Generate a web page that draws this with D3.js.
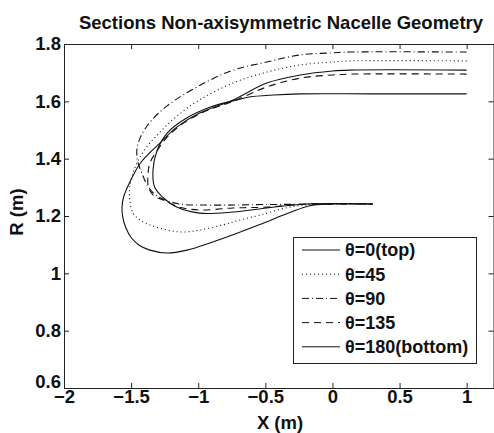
<!DOCTYPE html>
<html lang="en">
<head>
    <meta charset="UTF-8" />
    <title>Sections Non-axisymmetric Nacelle Geometry</title>
    <script src="https://d3js.org/d3.v7.min.js"></script>
    <style>
        body { margin: 0; background: #fff; }
        text { font-family: "Liberation Sans", Arial, Helvetica, sans-serif; font-weight: bold; fill: #111; }
    </style>
</head>
<body>
    <script>
        var w = 494;
        var h = 433;

        // Section data (x in m, r in m)
        var sec0x   = [1.0, 0.3, -0.24, -0.44, -0.62, -0.71, -0.91, -1.11, -1.23, -1.305, -1.337, -1.325, -1.265, -1.16, -0.99, -0.74, -0.49, -0.19, 0.3];
        var sec0r   = [1.626, 1.626, 1.626, 1.622, 1.615, 1.605, 1.580, 1.535, 1.490, 1.430, 1.360, 1.301, 1.266, 1.231, 1.210, 1.214, 1.228, 1.242, 1.242];

        var sec45x  = [1.0, 0.13, 0.0, -0.24, -0.49, -0.74, -0.99, -1.16, -1.29, -1.40, -1.47, -1.51, -1.51, -1.486, -1.434, -1.36, -1.233, -1.114, -0.988, -0.816, -0.69, -0.541, -0.318, -0.09, 0.3];
        var sec45r  = [1.741, 1.741, 1.737, 1.727, 1.702, 1.664, 1.605, 1.548, 1.490, 1.430, 1.370, 1.301, 1.256, 1.210, 1.186, 1.169, 1.151, 1.144, 1.151, 1.169, 1.186, 1.203, 1.231, 1.242, 1.242];

        var sec90x  = [1.0, 0.13, 0.0, -0.24, -0.49, -0.74, -0.99, -1.23, -1.38, -1.45, -1.455, -1.42, -1.37, -1.30, -1.15, -0.9, -0.5, 0.3];
        var sec90r  = [1.772, 1.772, 1.769, 1.762, 1.737, 1.709, 1.655, 1.585, 1.515, 1.450, 1.400, 1.350, 1.300, 1.268, 1.243, 1.238, 1.240, 1.242];

        var sec135x = [1.0, 0.13, 0.0, -0.24, -0.49, -0.74, -0.94, -1.11, -1.23, -1.31, -1.36, -1.375, -1.37, -1.33, -1.26, -1.14, -0.99, -0.74, -0.49, -0.2, 0.3];
        var sec135r = [1.695, 1.695, 1.692, 1.681, 1.650, 1.600, 1.567, 1.524, 1.476, 1.425, 1.385, 1.340, 1.300, 1.270, 1.256, 1.231, 1.221, 1.228, 1.231, 1.242, 1.242];

        var sec180x = [1.0, 0.13, 0.0, -0.24, -0.49, -0.74, -0.99, -1.16, -1.30, -1.43, -1.51, -1.555, -1.568, -1.562, -1.54, -1.50, -1.44, -1.36, -1.233, -1.084, -0.913, -0.72, -0.541, -0.318, -0.169, -0.02, 0.3];
        var sec180r = [1.709, 1.709, 1.706, 1.692, 1.664, 1.605, 1.559, 1.510, 1.448, 1.385, 1.318, 1.268, 1.230, 1.195, 1.160, 1.125, 1.098, 1.081, 1.071, 1.081, 1.106, 1.138, 1.170, 1.212, 1.236, 1.242, 1.242];

        var legendLabels = ["\u03b8=0(top)", "\u03b8=45", "\u03b8=90", "\u03b8=135", "\u03b8=180(bottom)"];
        var xTicks = [-2, -1.5, -1, -0.5, 0, 0.5, 1];
        var yTicks = [0.6, 0.8, 1, 1.2, 1.4, 1.6, 1.8];

        var sections = [
            { xs: sec0x,   rs: sec0r,   dash: null },
            { xs: sec45x,  rs: sec45r,  dash: "1,3" },
            { xs: sec90x,  rs: sec90r,  dash: "7,3,1,3" },
            { xs: sec135x, rs: sec135r, dash: "7,5" },
            { xs: sec180x, rs: sec180r, dash: null }
        ];

        var plotL = 64, plotR = 493.5, plotT = 44, plotB = 388;

        var svg = d3.select("body")
            .append("svg")
            .attr("width", w)
            .attr("height", h);

        var xScale = d3.scaleLinear()
            .domain([-2, 1.2])
            .range([plotL, plotR]);

        var yScale = d3.scaleLinear()
            .domain([0.6, 1.8])
            .range([plotB, plotT]);

        var fmt = d3.format("~g");

        // Axes (MATLAB style: ticks pointing inwards, box all round)
        var xAxis = svg.append("g")
            .attr("transform", "translate(0," + plotB + ")")
            .call(d3.axisBottom(xScale).tickValues(xTicks).tickFormat(fmt).tickSizeInner(-5).tickSizeOuter(0).tickPadding(5));
        var yAxis = svg.append("g")
            .attr("transform", "translate(" + plotL + ",0)")
            .call(d3.axisLeft(yScale).tickValues(yTicks).tickFormat(fmt).tickSizeInner(-5).tickSizeOuter(0).tickPadding(3));
        svg.append("g")
            .attr("transform", "translate(0," + plotT + ")")
            .call(d3.axisTop(xScale).tickValues(xTicks).tickFormat("").tickSizeInner(-5).tickSizeOuter(0));
        svg.append("g")
            .attr("transform", "translate(" + plotR + ",0)")
            .call(d3.axisRight(yScale).tickValues(yTicks).tickFormat("").tickSizeInner(-5).tickSizeOuter(0));

        svg.selectAll(".domain").attr("stroke", "#222").attr("stroke-width", 1);
        svg.selectAll(".tick line").attr("stroke", "#222");
        svg.selectAll(".tick text")
            .attr("font-size", 18.5)
            .attr("font-family", "Liberation Sans, Arial, sans-serif")
            .attr("font-weight", "bold")
            .attr("fill", "#111");
        xAxis.selectAll(".tick text").attr("dy", "0.55em");
        // lift the lowest R label a little so it clears the -2 label
        yAxis.selectAll(".tick text").filter(function(d) { return d === 0.6; }).attr("y", -6);

        // Curves
        var line = d3.line()
            .x(function(d) { return xScale(d[0]); })
            .y(function(d) { return yScale(d[1]); })
            .curve(d3.curveCatmullRom.alpha(0.5));

        svg.selectAll("path.section")
            .data(sections)
            .enter()
            .append("path")
            .attr("class", "section")
            .attr("d", function(s) {
                return line(s.xs.map(function(x, i) { return [x, s.rs[i]]; }));
            })
            .attr("fill", "none")
            .attr("stroke", "#111")
            .attr("stroke-width", 1.1)
            .attr("stroke-dasharray", function(s) { return s.dash; });

        // Legend
        var lg = svg.append("g");
        lg.append("rect")
            .attr("x", 293.5).attr("y", 237.5)
            .attr("width", 183).attr("height", 126)
            .attr("fill", "#fff")
            .attr("stroke", "#222");

        var items = lg.selectAll("g.item")
            .data(legendLabels)
            .enter()
            .append("g")
            .attr("class", "item")
            .attr("transform", function(d, i) { return "translate(0," + (250 + i * 24.2) + ")"; });

        items.append("line")
            .attr("x1", 302).attr("x2", 340)
            .attr("y1", 0).attr("y2", 0)
            .attr("stroke", "#111")
            .attr("stroke-width", 1)
            .attr("stroke-dasharray", function(d, i) { return sections[i].dash; });

        items.append("text")
            .attr("x", 345)
            .attr("y", 0)
            .attr("dy", "0.36em")
            .attr("font-size", 18)
            .text(function(d) { return d; });

        // Title and axis labels
        svg.append("text")
            .attr("x", 281).attr("y", 29)
            .attr("text-anchor", "middle")
            .attr("font-size", 18.5)
            .text("Sections Non-axisymmetric Nacelle Geometry");

        svg.append("text")
            .attr("x", 280).attr("y", 429)
            .attr("text-anchor", "middle")
            .attr("font-size", 18.5)
            .text("X (m)");

        svg.append("text")
            .attr("transform", "translate(23,212) rotate(-90)")
            .attr("text-anchor", "middle")
            .attr("font-size", 18.5)
            .text("R (m)");
    </script>
</body>
</html>
